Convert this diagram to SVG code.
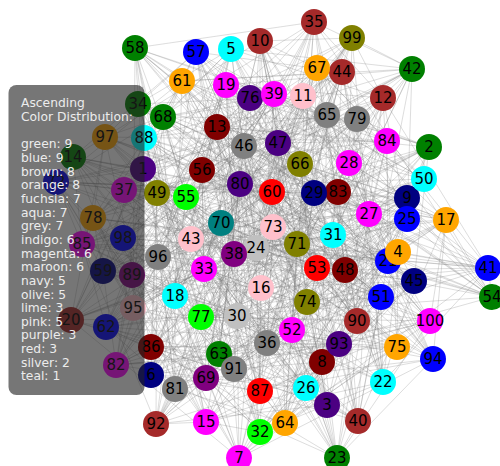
<svg xmlns="http://www.w3.org/2000/svg" width="500" height="466" viewBox="0 0 500 466">
<style>
.e{fill:none;stroke:#777;stroke-opacity:.36;stroke-width:.7;stroke-linejoin:round}
.nd text{font-family:"DejaVu Sans",sans-serif;font-size:15px;text-anchor:middle;fill:#000}
.lg{font-family:"DejaVu Sans",sans-serif;font-size:12.3px;fill:#ececec}
.green{fill:#008000}.blue{fill:#0000ff}.brown{fill:#a52a2a}.orange{fill:#ffa500}.fuchsia{fill:#ff00ff}.aqua{fill:#00ffff}.grey{fill:#808080}.indigo{fill:#4b0082}.maroon{fill:#800000}.navy{fill:#000080}.olive{fill:#808000}.lime{fill:#00ff00}.pink{fill:#ffc0cb}.purple{fill:#800080}.red{fill:#ff0000}.silver{fill:#c0c0c0}.teal{fill:#008080}
</style>
<rect width="500" height="466" fill="#fff"/>
<g id="edges">
<polygon class="e" points="143,169 234,254 397,347 383,98 157,193 151,347 337,458 272,192 105,137 138,104 297,244 322,362 414,281 116,365 226,85 202,170 339,344 237,316 317,68 398,252 488,268 93,218 206,422 292,330 132,275 306,388 219,354 430,321 124,190 307,302 303,96 345,270 82,244 383,382 103,271 158,257 204,269 221,223 239,458 342,72 175,389 175,296 186,197 156,424 314,193 300,164 327,405 358,421 201,317 73,157 381,297 144,138 407,219 106,327 352,38 267,343 273,227 260,41 278,143 387,141 388,261 135,48 133,308 260,432 206,378 151,375 191,239 240,184 446,220 492,297 234,369 349,163 327,115 429,147 274,94 250,98 217,127 424,179 260,391 256,248 182,81 123,238 314,22 56,182 407,198 244,146 338,192 71,320 196,52 433,359 333,235 163,117 231,49 412,69 357,119 261,288 317,268 357,321 369,214 285,423"/>
<polygon class="e" points="143,169 73,157 369,214 358,421 317,268 300,164 357,119 156,424 231,49 175,296 333,235 342,72 196,52 221,223 338,192 158,257 407,198 383,382 314,22 345,270 182,81 307,302 260,391 430,321 217,127 306,388 274,94 292,330 327,115 93,218 234,369 398,252 446,220 237,316 191,239 202,170 206,378 116,365 133,308 322,362 388,261 138,104 278,143 272,192 273,227 151,347 352,38 383,98 407,219 234,254 381,297 285,423 201,317 357,321 327,405 261,288 314,193 412,69 186,197 163,117 175,389 433,359 239,458 71,320 204,269 244,146 103,271 56,182 82,244 123,238 303,96 256,248 124,190 424,179 219,354 250,98 132,275 429,147 206,422 349,163 488,268 492,297 317,68 240,184 339,344 151,375 226,85 260,432 414,281 135,48 297,244 387,141 105,137 260,41 337,458 267,343 157,193 106,327 397,347 144,138"/>
<polygon class="e" points="143,169 237,316 103,271 144,138 446,220 244,146 397,347 398,252 204,269 106,327 234,369 71,320 157,193 93,218 239,458 267,343 327,115 433,359 337,458 292,330 175,389 260,41 274,94 163,117 105,137 306,388 186,197 387,141 217,127 412,69 297,244 430,321 314,193 135,48 260,391 261,288 414,281 307,302 327,405 260,432 182,81 357,321 226,85 345,270 201,317 151,375 314,22 285,423 339,344 383,382 381,297 240,184 407,198 234,254 317,68 158,257 407,219 492,297 338,192 383,98 488,268 221,223 352,38 349,163 196,52 151,347 206,422 342,72 273,227 429,147 333,235 272,192 132,275 175,296 278,143 250,98 231,49 138,104 219,354 156,424 388,261 424,179 357,119 322,362 124,190 300,164 133,308 256,248 317,268 116,365 303,96 358,421 206,378 123,238 369,214 202,170 82,244 73,157 191,239 56,182"/>
<polygon class="e" points="143,169 342,72 260,391 237,316 273,227 261,288 103,271 429,147 414,281 144,138 333,235 307,302 446,220 272,192 327,405 244,146 132,275 260,432 397,347 175,296 182,81 398,252 278,143 357,321 204,269 250,98 226,85 106,327 231,49 345,270 234,369 138,104 201,317 71,320 219,354 151,375 157,193 156,424 314,22 93,218 388,261 285,423 239,458 424,179 339,344 267,343 357,119 383,382 327,115 322,362 381,297 433,359 124,190 240,184 337,458 300,164 407,198 292,330 133,308 234,254 175,389 256,248 317,68 260,41 317,268 158,257 274,94 116,365 407,219 163,117 303,96 492,297 105,137 358,421 338,192 306,388 206,378 383,98 186,197 123,238 488,268 387,141 369,214 221,223 217,127 202,170 352,38 412,69 82,244 349,163 297,244 73,157 196,52 430,321 191,239 151,347 314,193 56,182 206,422 135,48"/>
<polygon class="e" points="143,169 383,98 337,458 138,104 414,281 202,170 317,68 93,218 132,275 430,321 303,96 383,382 204,269 342,72 186,197 300,164 201,317 144,138 352,38 260,41 388,261 260,432 191,239 492,297 327,115 250,98 260,391 123,238 407,198 71,320 333,235 412,69 317,268 285,423 397,347 151,347 105,137 322,362 226,85 237,316 488,268 292,330 219,354 307,302 82,244 158,257 239,458 175,296 314,193 358,421 381,297 106,327 273,227 387,141 133,308 151,375 446,220 349,163 274,94 424,179 182,81 56,182 338,192 433,359 231,49 261,288 369,214 234,254 157,193 272,192 297,244 116,365 339,344 398,252 206,422 306,388 124,190 345,270 103,271 221,223 175,389 156,424 327,405 73,157 407,219 267,343 278,143 135,48 206,378 240,184 234,369 429,147 217,127 256,248 314,22 244,146 196,52 163,117 357,119 357,321"/>
<polygon class="e" points="143,169 71,320 274,94 135,48 201,317 158,257 206,422 138,104 317,268 56,182 234,369 260,41 314,193 345,270 317,68 151,347 231,49 256,248 191,239 106,327 175,389 430,321 226,85 234,254 196,52 250,98 133,308 73,157 204,269 292,330 297,244 357,321 407,198 349,163 278,143 300,164 82,244 398,252 337,458 412,69 182,81 240,184 352,38 175,296 124,190 202,170 397,347 433,359 217,127 260,432 381,297 221,223 132,275 322,362 369,214 244,146 327,115 387,141 327,405 383,382 488,268 272,192 357,119 123,238 446,220 267,343 186,197 307,302 339,344 383,98 333,235 424,179 206,378 144,138 239,458 306,388 414,281 285,423 338,192 429,147 388,261 358,421 103,271 93,218 105,137 261,288 314,22 492,297 273,227 156,424 303,96 237,316 157,193 163,117 260,391 151,375 407,219 342,72 219,354 116,365"/>
<polygon class="e" points="143,169 322,362 206,422 383,382 314,193 267,343 191,239 424,179 196,52 285,423 297,244 93,218 82,244 156,424 352,38 151,375 217,127 71,320 369,214 138,104 488,268 345,270 186,197 106,327 206,378 250,98 338,192 357,321 105,137 398,252 303,96 175,296 407,219 260,432 274,94 244,146 317,268 272,192 317,68 307,302 175,389 144,138 133,308 429,147 407,198 261,288 337,458 237,316 124,190 342,72 381,297 135,48 327,115 56,182 357,119 151,347 339,344 430,321 239,458 73,157 388,261 349,163 314,22 412,69 157,193 202,170 219,354 221,223 201,317 387,141 234,369 123,238 231,49 383,98 226,85 306,388 204,269 358,421 278,143 492,297 182,81 163,117 397,347 116,365 132,275 158,257 327,405 260,41 446,220 256,248 333,235 234,254 414,281 292,330 103,271 300,164 273,227 240,184 260,391 433,359"/>
<polygon class="e" points="143,169 175,296 314,22 292,330 206,378 151,347 327,405 71,320 124,190 492,297 297,244 144,138 231,49 383,382 274,94 202,170 273,227 357,321 239,458 256,248 488,268 135,48 397,347 156,424 407,198 306,388 191,239 272,192 201,317 433,359 303,96 349,163 414,281 106,327 357,119 158,257 217,127 237,316 278,143 285,423 175,389 123,238 206,422 260,432 157,193 300,164 338,192 430,321 446,220 138,104 381,297 163,117 82,244 429,147 226,85 267,343 317,268 221,223 260,391 398,252 388,261 234,254 186,197 56,182 132,275 151,375 337,458 358,421 196,52 307,302 234,369 322,362 407,219 412,69 103,271 250,98 339,344 260,41 369,214 342,72 182,81 93,218 133,308 383,98 314,193 244,146 219,354 240,184 105,137 73,157 333,235 345,270 327,115 116,365 352,38 261,288 204,269 424,179 317,68 387,141"/>
<polygon class="e" points="143,169 256,248 278,143 221,223 339,344 261,288 274,94 106,327 82,244 322,362 333,235 492,297 201,317 430,321 337,458 244,146 206,378 156,424 206,422 234,254 182,81 387,141 239,458 237,316 317,268 250,98 352,38 383,382 414,281 163,117 234,369 73,157 124,190 272,192 338,192 151,375 314,193 292,330 397,347 123,238 388,261 342,72 317,68 357,321 217,127 267,343 103,271 116,365 231,49 349,163 381,297 307,302 105,137 71,320 191,239 300,164 132,275 383,98 314,22 135,48 175,389 398,252 369,214 424,179 273,227 158,257 226,85 412,69 327,115 144,138 303,96 138,104 196,52 240,184 327,405 306,388 157,193 56,182 133,308 175,296 488,268 285,423 260,391 260,41 204,269 202,170 357,119 429,147 407,219 345,270 297,244 433,359 446,220 358,421 219,354 151,347 407,198 260,432 186,197 93,218"/>
</g>
<g id="nodes">
<g id="n1" class="nd"><circle cx="143" cy="169" r="13" class="indigo"/><text x="143" y="174">1</text></g>
<g id="n2" class="nd"><circle cx="429" cy="147" r="13" class="green"/><text x="429" y="152">2</text></g>
<g id="n3" class="nd"><circle cx="327" cy="405" r="13" class="indigo"/><text x="327" y="410">3</text></g>
<g id="n5" class="nd"><circle cx="231" cy="49" r="13" class="aqua"/><text x="231" y="54">5</text></g>
<g id="n6" class="nd"><circle cx="151" cy="375" r="13" class="navy"/><text x="151" y="380">6</text></g>
<g id="n7" class="nd"><circle cx="239" cy="458" r="13" class="fuchsia"/><text x="239" y="463">7</text></g>
<g id="n8" class="nd"><circle cx="322" cy="362" r="13" class="maroon"/><text x="322" y="367">8</text></g>
<g id="n9" class="nd"><circle cx="407" cy="198" r="13" class="navy"/><text x="407" y="203">9</text></g>
<g id="n10" class="nd"><circle cx="260" cy="41" r="13" class="brown"/><text x="260" y="46">10</text></g>
<g id="n11" class="nd"><circle cx="303" cy="96" r="13" class="pink"/><text x="303" y="101">11</text></g>
<g id="n12" class="nd"><circle cx="383" cy="98" r="13" class="brown"/><text x="383" y="103">12</text></g>
<g id="n13" class="nd"><circle cx="217" cy="127" r="13" class="maroon"/><text x="217" y="132">13</text></g>
<g id="n14" class="nd"><circle cx="73" cy="157" r="13" class="green"/><text x="73" y="162">14</text></g>
<g id="n15" class="nd"><circle cx="206" cy="422" r="13" class="fuchsia"/><text x="206" y="427">15</text></g>
<g id="n16" class="nd"><circle cx="261" cy="288" r="13" class="pink"/><text x="261" y="293">16</text></g>
<g id="n17" class="nd"><circle cx="446" cy="220" r="13" class="orange"/><text x="446" y="225">17</text></g>
<g id="n18" class="nd"><circle cx="175" cy="296" r="13" class="aqua"/><text x="175" y="301">18</text></g>
<g id="n19" class="nd"><circle cx="226" cy="85" r="13" class="fuchsia"/><text x="226" y="90">19</text></g>
<g id="n20" class="nd"><circle cx="71" cy="320" r="13" class="brown"/><text x="71" y="325">20</text></g>
<g id="n21" class="nd"><circle cx="388" cy="261" r="13" class="blue"/><text x="388" y="266">21</text></g>
<g id="n22" class="nd"><circle cx="383" cy="382" r="13" class="aqua"/><text x="383" y="387">22</text></g>
<g id="n23" class="nd"><circle cx="337" cy="458" r="13" class="green"/><text x="337" y="463">23</text></g>
<g id="n24" class="nd"><circle cx="256" cy="248" r="13" class="silver"/><text x="256" y="253">24</text></g>
<g id="n25" class="nd"><circle cx="407" cy="219" r="13" class="blue"/><text x="407" y="224">25</text></g>
<g id="n26" class="nd"><circle cx="306" cy="388" r="13" class="aqua"/><text x="306" y="393">26</text></g>
<g id="n27" class="nd"><circle cx="369" cy="214" r="13" class="fuchsia"/><text x="369" y="219">27</text></g>
<g id="n28" class="nd"><circle cx="349" cy="163" r="13" class="fuchsia"/><text x="349" y="168">28</text></g>
<g id="n30" class="nd"><circle cx="237" cy="316" r="13" class="silver"/><text x="237" y="321">30</text></g>
<g id="n31" class="nd"><circle cx="333" cy="235" r="13" class="aqua"/><text x="333" y="240">31</text></g>
<g id="n32" class="nd"><circle cx="260" cy="432" r="13" class="lime"/><text x="260" y="437">32</text></g>
<g id="n33" class="nd"><circle cx="204" cy="269" r="13" class="fuchsia"/><text x="204" y="274">33</text></g>
<g id="n34" class="nd"><circle cx="138" cy="104" r="13" class="green"/><text x="138" y="109">34</text></g>
<g id="n35" class="nd"><circle cx="314" cy="22" r="13" class="brown"/><text x="314" y="27">35</text></g>
<g id="n36" class="nd"><circle cx="267" cy="343" r="13" class="grey"/><text x="267" y="348">36</text></g>
<g id="n37" class="nd"><circle cx="124" cy="190" r="13" class="fuchsia"/><text x="124" y="195">37</text></g>
<g id="n38" class="nd"><circle cx="234" cy="254" r="13" class="purple"/><text x="234" y="259">38</text></g>
<g id="n40" class="nd"><circle cx="358" cy="421" r="13" class="brown"/><text x="358" y="426">40</text></g>
<g id="n41" class="nd"><circle cx="488" cy="268" r="13" class="blue"/><text x="488" y="273">41</text></g>
<g id="n42" class="nd"><circle cx="412" cy="69" r="13" class="green"/><text x="412" y="74">42</text></g>
<g id="n43" class="nd"><circle cx="191" cy="239" r="13" class="pink"/><text x="191" y="244">43</text></g>
<g id="n44" class="nd"><circle cx="342" cy="72" r="13" class="brown"/><text x="342" y="77">44</text></g>
<g id="n45" class="nd"><circle cx="414" cy="281" r="13" class="navy"/><text x="414" y="286">45</text></g>
<g id="n46" class="nd"><circle cx="244" cy="146" r="13" class="grey"/><text x="244" y="151">46</text></g>
<g id="n47" class="nd"><circle cx="278" cy="143" r="13" class="indigo"/><text x="278" y="148">47</text></g>
<g id="n48" class="nd"><circle cx="345" cy="270" r="13" class="maroon"/><text x="345" y="275">48</text></g>
<g id="n49" class="nd"><circle cx="157" cy="193" r="13" class="olive"/><text x="157" y="198">49</text></g>
<g id="n50" class="nd"><circle cx="424" cy="179" r="13" class="aqua"/><text x="424" y="184">50</text></g>
<g id="n51" class="nd"><circle cx="381" cy="297" r="13" class="blue"/><text x="381" y="302">51</text></g>
<g id="n52" class="nd"><circle cx="292" cy="330" r="13" class="fuchsia"/><text x="292" y="335">52</text></g>
<g id="n53" class="nd"><circle cx="317" cy="268" r="13" class="red"/><text x="317" y="273">53</text></g>
<g id="n54" class="nd"><circle cx="492" cy="297" r="13" class="green"/><text x="492" y="302">54</text></g>
<g id="n55" class="nd"><circle cx="186" cy="197" r="13" class="lime"/><text x="186" y="202">55</text></g>
<g id="n56" class="nd"><circle cx="202" cy="170" r="13" class="maroon"/><text x="202" y="175">56</text></g>
<g id="n57" class="nd"><circle cx="196" cy="52" r="13" class="blue"/><text x="196" y="57">57</text></g>
<g id="n58" class="nd"><circle cx="135" cy="48" r="13" class="green"/><text x="135" y="53">58</text></g>
<g id="n59" class="nd"><circle cx="103" cy="271" r="13" class="navy"/><text x="103" y="276">59</text></g>
<g id="n60" class="nd"><circle cx="272" cy="192" r="13" class="red"/><text x="272" y="197">60</text></g>
<g id="n61" class="nd"><circle cx="182" cy="81" r="13" class="orange"/><text x="182" y="86">61</text></g>
<g id="n62" class="nd"><circle cx="106" cy="327" r="13" class="blue"/><text x="106" y="332">62</text></g>
<g id="n63" class="nd"><circle cx="219" cy="354" r="13" class="green"/><text x="219" y="359">63</text></g>
<g id="n64" class="nd"><circle cx="285" cy="423" r="13" class="orange"/><text x="285" y="428">64</text></g>
<g id="n65" class="nd"><circle cx="327" cy="115" r="13" class="grey"/><text x="327" y="120">65</text></g>
<g id="n66" class="nd"><circle cx="300" cy="164" r="13" class="olive"/><text x="300" y="169">66</text></g>
<g id="n67" class="nd"><circle cx="317" cy="68" r="13" class="orange"/><text x="317" y="73">67</text></g>
<g id="n68" class="nd"><circle cx="163" cy="117" r="13" class="green"/><text x="163" y="122">68</text></g>
<g id="n69" class="nd"><circle cx="206" cy="378" r="13" class="purple"/><text x="206" y="383">69</text></g>
<g id="n70" class="nd"><circle cx="221" cy="223" r="13" class="teal"/><text x="221" y="228">70</text></g>
<g id="n71" class="nd"><circle cx="297" cy="244" r="13" class="olive"/><text x="297" y="249">71</text></g>
<g id="n72" class="nd"><circle cx="56" cy="182" r="13" class="blue"/><text x="56" y="187">72</text></g>
<g id="n73" class="nd"><circle cx="273" cy="227" r="13" class="pink"/><text x="273" y="232">73</text></g>
<g id="n74" class="nd"><circle cx="307" cy="302" r="13" class="olive"/><text x="307" y="307">74</text></g>
<g id="n75" class="nd"><circle cx="397" cy="347" r="13" class="orange"/><text x="397" y="352">75</text></g>
<g id="n76" class="nd"><circle cx="250" cy="98" r="13" class="indigo"/><text x="250" y="103">76</text></g>
<g id="n77" class="nd"><circle cx="201" cy="317" r="13" class="lime"/><text x="201" y="322">77</text></g>
<g id="n78" class="nd"><circle cx="93" cy="218" r="13" class="orange"/><text x="93" y="223">78</text></g>
<g id="n79" class="nd"><circle cx="357" cy="119" r="13" class="grey"/><text x="357" y="124">79</text></g>
<g id="n80" class="nd"><circle cx="240" cy="184" r="13" class="indigo"/><text x="240" y="189">80</text></g>
<g id="n81" class="nd"><circle cx="175" cy="389" r="13" class="grey"/><text x="175" y="394">81</text></g>
<g id="n82" class="nd"><circle cx="116" cy="365" r="13" class="fuchsia"/><text x="116" y="370">82</text></g>
<g id="n83" class="nd"><circle cx="338" cy="192" r="13" class="maroon"/><text x="338" y="197">83</text></g>
<g id="n84" class="nd"><circle cx="387" cy="141" r="13" class="fuchsia"/><text x="387" y="146">84</text></g>
<g id="n85" class="nd"><circle cx="82" cy="244" r="13" class="fuchsia"/><text x="82" y="249">85</text></g>
<g id="n86" class="nd"><circle cx="151" cy="347" r="13" class="maroon"/><text x="151" y="352">86</text></g>
<g id="n87" class="nd"><circle cx="260" cy="391" r="13" class="red"/><text x="260" y="396">87</text></g>
<g id="n88" class="nd"><circle cx="144" cy="138" r="13" class="aqua"/><text x="144" y="143">88</text></g>
<g id="n89" class="nd"><circle cx="132" cy="275" r="13" class="purple"/><text x="132" y="280">89</text></g>
<g id="n90" class="nd"><circle cx="357" cy="321" r="13" class="brown"/><text x="357" y="326">90</text></g>
<g id="n91" class="nd"><circle cx="234" cy="369" r="13" class="grey"/><text x="234" y="374">91</text></g>
<g id="n92" class="nd"><circle cx="156" cy="424" r="13" class="brown"/><text x="156" y="429">92</text></g>
<g id="n93" class="nd"><circle cx="339" cy="344" r="13" class="indigo"/><text x="339" y="349">93</text></g>
<g id="n94" class="nd"><circle cx="433" cy="359" r="13" class="blue"/><text x="433" y="364">94</text></g>
<g id="n95" class="nd"><circle cx="133" cy="308" r="13" class="pink"/><text x="133" y="313">95</text></g>
<g id="n96" class="nd"><circle cx="158" cy="257" r="13" class="grey"/><text x="158" y="262">96</text></g>
<g id="n97" class="nd"><circle cx="105" cy="137" r="13" class="orange"/><text x="105" y="142">97</text></g>
<g id="n98" class="nd"><circle cx="123" cy="238" r="13" class="blue"/><text x="123" y="243">98</text></g>
<g id="n99" class="nd"><circle cx="352" cy="38" r="13" class="olive"/><text x="352" y="43">99</text></g>
<g id="n100" class="nd"><circle cx="430" cy="321" r="13" class="fuchsia"/><text x="430" y="326">100</text></g>
<g id="n4" class="nd"><circle cx="398" cy="252" r="13" class="orange"/><text x="398" y="257">4</text></g>
<g id="n29" class="nd"><circle cx="314" cy="193" r="13" class="navy"/><text x="314" y="198">29</text></g>
<g id="n39" class="nd"><circle cx="274" cy="94" r="13" class="fuchsia"/><text x="274" y="99">39</text></g>
</g>
<g id="legend">
<rect x="8.5" y="85" width="136" height="310" rx="8" fill="#222" fill-opacity="0.62"/>
<text class="lg"><tspan x="21" y="107.4">Ascending</tspan><tspan x="21" y="121.05">Color Distribution:</tspan><tspan x="21" y="148.35">green: 9</tspan><tspan x="21" y="162">blue: 9</tspan><tspan x="21" y="175.65">brown: 8</tspan><tspan x="21" y="189.3">orange: 8</tspan><tspan x="21" y="202.95">fuchsia: 7</tspan><tspan x="21" y="216.6">aqua: 7</tspan><tspan x="21" y="230.25">grey: 7</tspan><tspan x="21" y="243.9">indigo: 6</tspan><tspan x="21" y="257.55">magenta: 6</tspan><tspan x="21" y="271.2">maroon: 6</tspan><tspan x="21" y="284.85">navy: 5</tspan><tspan x="21" y="298.5">olive: 5</tspan><tspan x="21" y="312.15">lime: 3</tspan><tspan x="21" y="325.8">pink: 5</tspan><tspan x="21" y="339.45">purple: 3</tspan><tspan x="21" y="353.1">red: 3</tspan><tspan x="21" y="366.75">silver: 2</tspan><tspan x="21" y="380.4">teal: 1</tspan></text>
</g>
</svg>
